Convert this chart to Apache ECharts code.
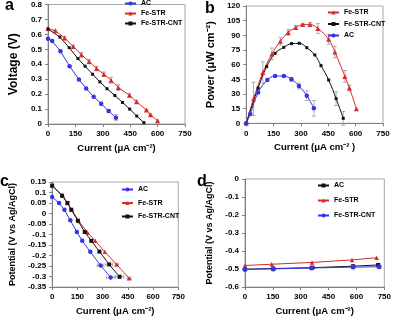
<!DOCTYPE html>
<html>
<head>
<meta charset="utf-8">
<script src="https://cdn.jsdelivr.net/npm/echarts@6/dist/echarts.min.js"></script>
<style>
html, body { margin: 0; padding: 0; background: #fff; }
.p { position: absolute; }
#a { left: 0; top: 0; width: 197px; height: 160px; }
#b { left: 197px; top: 0; width: 197px; height: 160px; }
#c { left: 0; top: 160px; width: 197px; height: 161px; }
#d { left: 197px; top: 160px; width: 197px; height: 161px; }
</style>
</head>
<body>
<div id="a" class="p"></div>
<div id="b" class="p"></div>
<div id="c" class="p"></div>
<div id="d" class="p"></div>
<script>
// panel a - polarization (voltage)
const aACx = [0, 23, 68, 118, 169, 209, 250, 291, 332, 372];
const aACy = [0.571, 0.556, 0.487, 0.387, 0.298, 0.238, 0.182, 0.136, 0.087, 0.042];
const aACe = [0, 0, 0, 0, 0, 0, 0, 0.01, 0.01, 0.02];
const aSTRx = [0, 40, 91, 138, 183, 225, 266, 306, 345, 385, 446, 485, 539, 561, 600];
const aSTRy = [0.64, 0.624, 0.576, 0.518, 0.464, 0.418, 0.371, 0.333, 0.293, 0.244, 0.193, 0.149, 0.093, 0.062, 0.022];
const aSTRe = [0, 0.005, 0.01, 0.01, 0.015, 0.015, 0.015, 0.015, 0.02, 0.02, 0.01, 0.01, 0.005, 0.005, 0];
const aCNTx = [0, 65, 116, 164, 203, 244, 284, 323, 366, 408, 447, 486, 525];
const aCNTy = [0.636, 0.582, 0.511, 0.438, 0.387, 0.333, 0.282, 0.236, 0.191, 0.144, 0.1, 0.053, 0.009];

// panel b - power density
const bSTRx = [0, 40, 91, 141, 187, 230, 272, 310, 350, 393, 452, 486, 541, 566, 604];
const bSTRy = [0, 25, 52, 71, 84, 93, 98, 101, 101, 97, 86, 73, 48, 36, 15];
const bSTRe = [0, 17, 11, 6, 4, 3, 2, 1, 2, 5, 5, 6, 6, 3, 0];
const bCNTx = [0, 65, 112, 158, 206, 248, 291, 332, 376, 410, 452, 493, 532];
const bCNTy = [0, 36, 58, 71.6, 77.7, 81.5, 81.8, 77.4, 69.9, 59, 44.3, 25.2, 5.1];
const bCNTe = [0, 0, 0, 0, 0, 0, 0, 0, 0, 0, 0, 7, 7];
const bACx = [0, 22, 65, 116, 158, 206, 248, 289, 332, 371];
const bACy = [0, 9.5, 31.4, 44.3, 48.4, 48.4, 45, 38.2, 28.3, 15.3];
const bACe = [0, 0, 0, 0, 0, 0, 2, 3, 5, 8];

// panel c - anode potential
const cACx = [0, 41, 73, 108, 147, 179, 227, 288, 348];
const cACy = [0.079, 0.05, 0.018, -0.032, -0.088, -0.13, -0.182, -0.247, -0.304];
const cACe = [0, 0, 0, 0, 0, 0, 0, 20, 25];
const cSTRx = [0, 64, 91, 117, 158, 211, 256, 313, 384, 458];
const cSTRy = [0.133, 0.084, 0.05, 0.018, -0.036, -0.091, -0.13, -0.182, -0.243, -0.308];
const cSTRe = [0, 0, 0, 0, 0, 0, 0, 0, 10, 12];
const cCNTx = [0, 59, 91, 114, 153, 194, 233, 281, 339, 401];
const cCNTy = [0.133, 0.085, 0.05, 0.018, -0.034, -0.088, -0.13, -0.181, -0.242, -0.301];
const cCNTe = [0, 0, 0, 0, 0, 0, 0, 0, 20, 25];

// panel d - cathode potential
const dACx = [0, 152, 363, 582, 717];
const dACy = [-0.501, -0.497, -0.492, -0.484, -0.477];
const dSTRx = [0, 144, 361, 576, 709];
const dSTRy = [-0.48, -0.473, -0.463, -0.449, -0.437];
const dCNTx = [0, 152, 358, 582, 722];
const dCNTy = [-0.501, -0.499, -0.494, -0.489, -0.487];

const FONT = '"Liberation Sans", Arial, sans-serif';
const BLUE = '#3535e2', RED = '#d42c2c', BLACK = '#111111';

function pairs(xs, ys) { return xs.map((x, i) => [x, ys[i]]); }
function errs(xs, ys, es) { return xs.map((x, i) => [x, ys[i], es[i]]).filter(d => d[2] > 0); }

function errSeries(data, horiz) {
  return {
    type: 'custom', silent: true, z: 1,
    renderItem(params, api) {
      const x = api.value(0), y = api.value(1), e = api.value(2);
      const p1 = horiz ? api.coord([x - e, y]) : api.coord([x, y - e]);
      const p2 = horiz ? api.coord([x + e, y]) : api.coord([x, y + e]);
      const st = { stroke: '#9a9a9a', lineWidth: 0.8 };
      const cap = p => horiz
        ? { type: 'line', shape: { x1: p[0], y1: p[1] - 2, x2: p[0], y2: p[1] + 2 }, style: st }
        : { type: 'line', shape: { x1: p[0] - 2, y1: p[1], x2: p[0] + 2, y2: p[1] }, style: st };
      return { type: 'group', children: [
        { type: 'line', shape: { x1: p1[0], y1: p1[1], x2: p2[0], y2: p2[1] }, style: st },
        cap(p1), cap(p2)
      ] };
    },
    data: data
  };
}

function line(name, data, color, symbol, size, smooth) {
  return {
    name: name, type: 'line', data: data, smooth: smooth || false,
    symbol: symbol, symbolSize: size, showSymbol: true, z: 3,
    lineStyle: { color: color, width: 1 }, itemStyle: { color: color }
  };
}

function nameStyle(size) {
  return { color: '#000', fontSize: size, fontWeight: 'bold', fontFamily: FONT };
}

function axis(min, max, interval, extra) {
  return Object.assign({
    type: 'value', min: min, max: max, interval: interval,
    axisLine: { show: true, onZero: false, lineStyle: { color: '#808080', width: 1 } },
    axisTick: { show: true, length: 3, lineStyle: { color: '#808080' } },
    splitLine: { show: false },
    axisLabel: { color: '#000', fontSize: 8, fontWeight: 'bold', fontFamily: FONT, margin: 6 },
    nameLocation: 'middle'
  }, extra);
}

function legend(left, top, gap, names) {
  return {
    orient: 'vertical', left: left, top: top, itemWidth: 11, itemHeight: 5,
    itemGap: gap, padding: 0, data: names, selectedMode: false,
    textStyle: { fontSize: 7, fontWeight: 'bold', fontFamily: FONT, color: '#000' }
  };
}

function letter(ch, left, top) {
  return [{ type: 'text', left: left, top: top,
    style: { text: ch, font: 'bold 16px ' + FONT, fill: '#000' } }];
}

function grid(left, top, width, height) {
  return { left: left, top: top, width: width, height: height,
    show: true, borderColor: '#a8a8a8', borderWidth: 1, backgroundColor: 'transparent' };
}

const chA = echarts.init(document.getElementById('a'));
chA.setOption({
  animation: false,
  grid: grid(40.5, 4.5, 144.5, 119.5),
  graphic: letter('a', 5, -2),
  legend: legend(124, 0, 3, ['AC', 'Fe-STR', 'Fe-STR-CNT']),
  xAxis: axis(0, 750, 150, { name: 'Current (μA cm⁻²)', nameGap: 19, nameTextStyle: nameStyle(9.5) }),
  yAxis: axis(0, 0.8, 0.1, { name: 'Voltage (V)', nameGap: 24, nameTextStyle: nameStyle(12) }),
  series: [
    errSeries(errs(aACx, aACy, aACe)),
    errSeries(errs(aSTRx, aSTRy, aSTRe)),
    line('AC', pairs(aACx, aACy), BLUE, 'circle', 4.5),
    line('Fe-STR', pairs(aSTRx, aSTRy), RED, 'triangle', 5),
    line('Fe-STR-CNT', pairs(aCNTx, aCNTy), BLACK, 'rect', 3)
  ]
});

const chB = echarts.init(document.getElementById('b'));
chB.setOption({
  animation: false,
  grid: grid(39, 6, 147, 117.3),
  graphic: letter('b', 8, 1),
  legend: legend(130, 9, 4.5, ['Fe-STR', 'Fe-STR-CNT', 'AC']),
  xAxis: axis(0, 750, 150, { name: 'Current (μA cm⁻² )', nameGap: 19, nameTextStyle: nameStyle(9.5) }),
  yAxis: axis(0, 120, 15, { name: 'Power (μW cm⁻²)', nameGap: 18, nameTextStyle: nameStyle(11) }),
  series: [
    errSeries(errs(bSTRx, bSTRy, bSTRe)),
    errSeries(errs(bCNTx, bCNTy, bCNTe)),
    errSeries(errs(bACx, bACy, bACe)),
    line('Fe-STR', pairs(bSTRx, bSTRy), RED, 'triangle', 5, 0.4),
    line('Fe-STR-CNT', pairs(bCNTx, bCNTy), BLACK, 'rect', 3, 0.4),
    line('AC', pairs(bACx, bACy), BLUE, 'circle', 4.5, 0.4)
  ]
});

const chC = echarts.init(document.getElementById('c'));
chC.setOption({
  animation: false,
  grid: grid(37.7, 22, 140.6, 115.3),
  graphic: letter('c', 0, 14),
  legend: legend(121, 26, 6.5, ['AC', 'Fe-STR', 'Fe-STR-CNT']),
  xAxis: axis(0, 750, 150, { name: 'Current (μA cm⁻²)', nameGap: 18, nameTextStyle: nameStyle(9.5) }),
  yAxis: axis(-0.35, 0.15, 0.05, { name: 'Potential (V vs Ag/AgCl)', nameGap: 29, nameTextStyle: nameStyle(9) }),
  series: [
    errSeries(errs(cACx, cACy, cACe), true),
    errSeries(errs(cSTRx, cSTRy, cSTRe), true),
    errSeries(errs(cCNTx, cCNTy, cCNTe), true),
    line('AC', pairs(cACx, cACy), BLUE, 'circle', 4.5),
    line('Fe-STR', pairs(cSTRx, cSTRy), RED, 'triangle', 4.5),
    line('Fe-STR-CNT', pairs(cCNTx, cCNTy), BLACK, 'rect', 4)
  ]
});

const chD = echarts.init(document.getElementById('d'));
chD.setOption({
  animation: false,
  grid: grid(39, 19, 150, 117),
  graphic: letter('d', 0, 14),
  legend: legend(120, 22, 8, ['AC', 'Fe-STR', 'Fe-STR-CNT']),
  xAxis: axis(0, 750, 150, { name: 'Current (μA cm⁻²)', nameGap: 18, nameTextStyle: nameStyle(9.5) }),
  yAxis: axis(-0.6, 0, 0.1, { name: 'Potential (V vs Ag/AgCl)', nameGap: 31, nameTextStyle: nameStyle(9) }),
  series: [
    line('AC', pairs(dACx, dACy), BLACK, 'rect', 4),
    line('Fe-STR', pairs(dSTRx, dSTRy), RED, 'triangle', 4.5),
    line('Fe-STR-CNT', pairs(dCNTx, dCNTy), BLUE, 'circle', 5)
  ]
});
</script>
</body>
</html>
